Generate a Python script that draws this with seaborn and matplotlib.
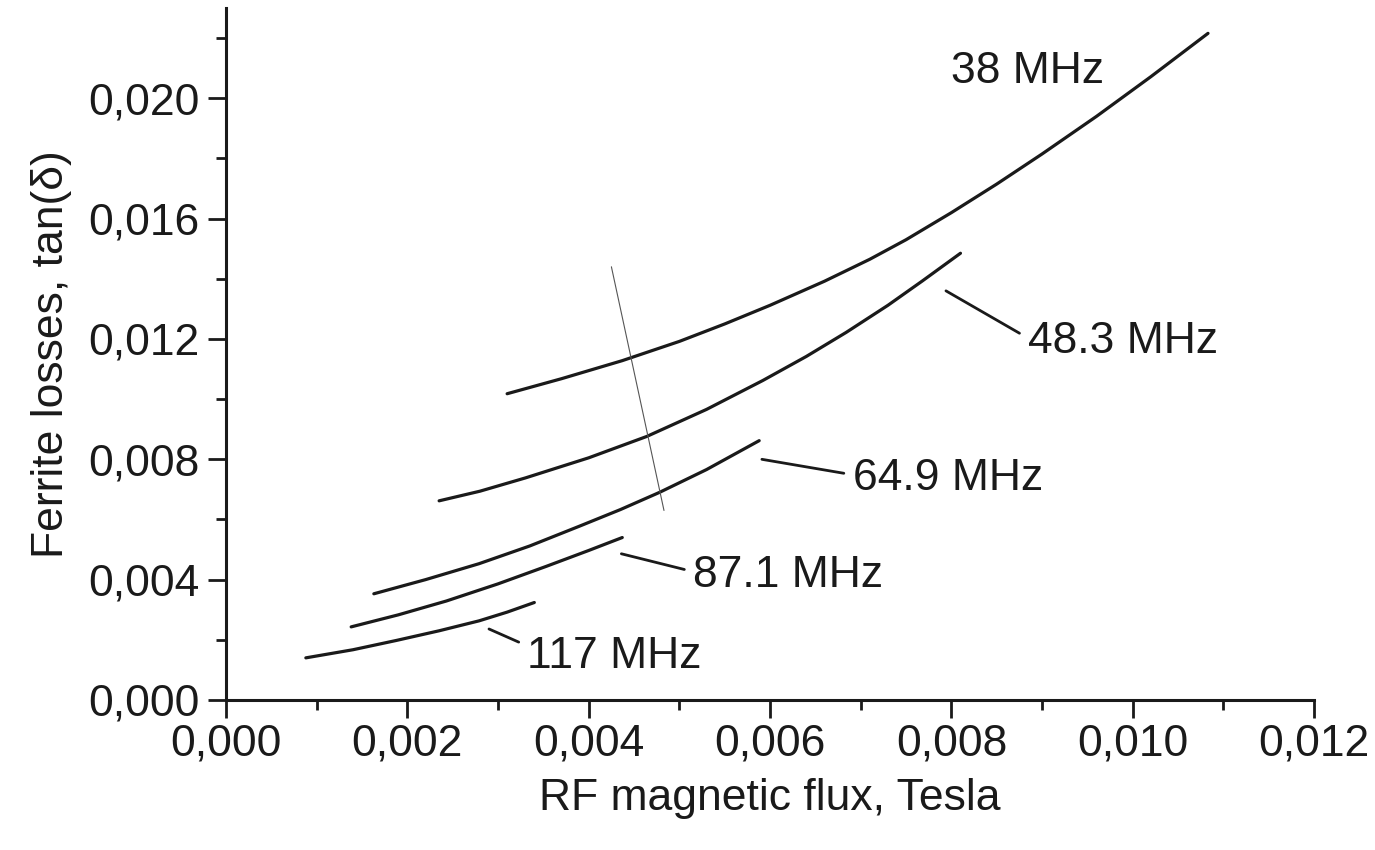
import numpy as np
import pandas as pd
import seaborn as sns
import matplotlib.pyplot as plt
from matplotlib.ticker import MultipleLocator

# values (flux in Tesla, tan(delta))
flux_38 = [0.00310, 0.00370, 0.00437, 0.00500, 0.00550, 0.00600, 0.00660, 0.00710,
           0.00750, 0.00800, 0.00850, 0.00900, 0.00960, 0.01020, 0.01083]
tan_38 = [0.01018, 0.01068, 0.01128, 0.01192, 0.01250, 0.01312, 0.01392, 0.01465,
          0.01530, 0.01620, 0.01715, 0.01815, 0.01940, 0.02072, 0.02216]

flux_48 = [0.00235, 0.00280, 0.00330, 0.00400, 0.00464, 0.00530, 0.00592, 0.00640,
           0.00684, 0.00730, 0.00768, 0.00810]
tan_48 = [0.00662, 0.00694, 0.00738, 0.00805, 0.00876, 0.00966, 0.01062, 0.01142,
          0.01222, 0.01312, 0.01393, 0.01485]

flux_65 = [0.00163, 0.00220, 0.00279, 0.00335, 0.00390, 0.00435, 0.00478, 0.00530, 0.00588]
tan_65 = [0.00353, 0.00400, 0.00453, 0.00512, 0.00578, 0.00633, 0.00690, 0.00766, 0.00862]

flux_87 = [0.00138, 0.00190, 0.00243, 0.00300, 0.00353, 0.00400, 0.00437]
tan_87 = [0.00243, 0.00283, 0.00329, 0.00386, 0.00444, 0.00497, 0.00540]

flux_117 = [0.00088, 0.00140, 0.00188, 0.00235, 0.00279, 0.00310, 0.00340]
tan_117 = [0.00140, 0.00167, 0.00198, 0.00230, 0.00263, 0.00292, 0.00324]

freq_labels = ['38 MHz', '48.3 MHz', '64.9 MHz', '87.1 MHz', '117 MHz']

x_ticks = [0.000, 0.002, 0.004, 0.006, 0.008, 0.010, 0.012]
x_ticklabels = ['0,000', '0,002', '0,004', '0,006', '0,008', '0,010', '0,012']
y_ticks = [0.000, 0.004, 0.008, 0.012, 0.016, 0.020]
y_ticklabels = ['0,000', '0,004', '0,008', '0,012', '0,016', '0,020']

# the thin pencil stroke across the curves
stroke_x = [0.00425, 0.00483]
stroke_y = [0.0144, 0.0063]

sns.set_theme(style='ticks')
plt.rcParams['font.family'] = ['Liberation Sans', 'DejaVu Sans']

ink = '#1a1a1a'
fs = 32

fig = plt.figure(figsize=(13.75, 8.5), dpi=100)
ax = fig.add_axes([0.1644, 0.1765, 0.7913, 0.814])

series = [(flux_38, tan_38), (flux_48, tan_48), (flux_65, tan_65),
          (flux_87, tan_87), (flux_117, tan_117)]
for fx, ty in series:
    sns.lineplot(x=fx, y=ty, ax=ax, color=ink, linewidth=2.3,
                 sort=False, estimator=None)

ax.plot(stroke_x, stroke_y, color='#555555', linewidth=0.8)

ax.set_xlim(0, 0.012)
ax.set_ylim(0, 0.023)
ax.set_xticks(x_ticks)
ax.set_xticklabels(x_ticklabels)
ax.set_yticks(y_ticks)
ax.set_yticklabels(y_ticklabels)
ax.xaxis.set_minor_locator(MultipleLocator(0.001))
ax.yaxis.set_minor_locator(MultipleLocator(0.002))

ax.tick_params(which='major', direction='out', length=13, width=2, labelsize=fs,
               colors=ink, pad=4)
ax.tick_params(which='minor', direction='out', length=7, width=2, colors=ink)
ax.tick_params(axis='y', which='major', pad=6)

sns.despine(ax=ax)
for side in ['left', 'bottom']:
    ax.spines[side].set_linewidth(2.2)
    ax.spines[side].set_color(ink)

ax.set_xlabel('RF magnetic flux, Tesla', fontsize=fs, color=ink, labelpad=10)
ax.set_ylabel('Ferrite losses, tan(δ)', fontsize=fs, color=ink, labelpad=12)

# labels with leader lines
txt = dict(fontsize=fs, color=ink, va='center', ha='left')
ax.text(0.00800, 0.0209, freq_labels[0], **txt)
lead = dict(arrowstyle='-', color=ink, lw=2, shrinkA=4, shrinkB=0)
ax.annotate(freq_labels[1], xy=(0.00794, 0.0136), xytext=(0.00884, 0.0119),
            arrowprops=dict(lead, relpos=(0, 0.6)), **txt)
ax.annotate(freq_labels[2], xy=(0.00591, 0.0080), xytext=(0.00691, 0.00735),
            arrowprops=dict(lead, relpos=(0, 0.6)), **txt)
ax.annotate(freq_labels[3], xy=(0.00436, 0.00486), xytext=(0.00515, 0.00413),
            arrowprops=dict(lead, relpos=(0, 0.6)), **txt)
ax.annotate(freq_labels[4], xy=(0.00290, 0.00236), xytext=(0.00332, 0.00146),
            arrowprops=dict(lead, relpos=(0, 0.75)), **txt)

plt.savefig('out.png', dpi=100)
